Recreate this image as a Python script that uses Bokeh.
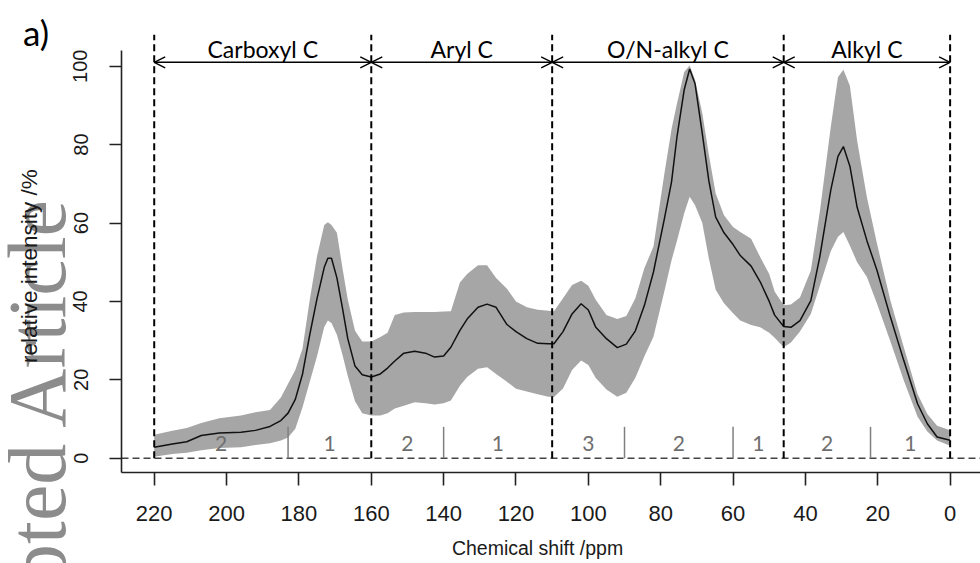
import math
from bokeh.plotting import figure
from bokeh.models import (Range1d, Label, Arrow, OpenHead, ColumnDataSource, FixedTicker,
                          LinearAxis)
from bokeh.core.properties import value
from bokeh.embed import file_html
from bokeh.resources import INLINE

# ---------------- data ----------------
ppm = [220, 215, 211, 207, 202, 196, 192, 188, 185, 183,
       181, 179, 177, 175, 173, 172, 171, 169.5, 168, 166.5,
       164.5, 162.5, 160, 157.5, 155.5, 153.5, 151, 148, 145, 142.5,
       140, 138, 135.5, 133.5, 130.5, 128, 125.5, 122.5, 120, 117,
       114, 111, 109.5, 107, 104.5, 102, 100, 98, 95, 92,
       89.5, 87, 84.5, 82, 79, 77, 75.5, 73.5, 72, 70.5,
       68.5, 66.7, 64.8, 62.5, 60, 58, 55, 52.5, 50, 48.5,
       46, 44, 41.5, 38.5, 36, 33, 31, 29.5, 27.7, 25.7,
       23, 20.2, 16.5, 12.8, 9, 6.3, 3.6, 0]
mean_int = [2.8, 3.6, 4.2, 5.8, 6.4, 6.6, 7.1, 8.1, 9.6, 11.5,
            15.0, 21.5, 31.5, 40.7, 48.7, 51.0, 51.0, 46.0, 38.5, 30.5,
            23.5, 21.3, 20.7, 21.5, 23.0, 24.8, 26.8, 27.3, 26.8, 25.8,
            26.1, 28.3, 32.6, 35.5, 38.5, 39.3, 38.5, 34.1, 32.3, 30.5,
            29.3, 29.2, 29.2, 32.3, 36.8, 39.4, 37.8, 33.5, 30.5, 28.2,
            29.1, 32.5, 39.0, 47.5, 61.0, 70.5, 82.0, 94.0, 99.3, 95.5,
            82.8, 70.8, 61.5, 57.5, 54.5, 51.7, 49.0, 45.0, 40.0, 36.5,
            33.6, 33.4, 35.1, 40.2, 51.5, 68.3, 77.0, 79.5, 74.5, 64.0,
            55.5, 47.9, 36.0, 24.9, 13.9, 8.8, 5.4, 4.6]
upper_int = [6.0, 7.0, 7.7, 9.0, 10.2, 10.9, 11.7, 12.3, 15.5, 19.0,
             22.5, 28.0, 40.5, 51.5, 59.5, 60.2, 59.5, 57.5, 48.7, 40.5,
             32.5, 29.8, 29.8, 30.9, 32.0, 36.5, 37.2, 37.3, 37.3, 37.3,
             37.4, 37.5, 44.8, 47.0, 49.2, 49.2, 46.0, 43.2, 40.0, 38.5,
             37.9, 37.6, 37.5, 40.8, 44.2, 45.3, 44.0, 40.5, 36.5, 35.5,
             36.3, 40.8, 48.5, 54.0, 72.5, 84.0, 90.5, 98.5, 100.2, 96.5,
             88.0, 77.5, 67.5, 62.0, 59.0, 57.7, 56.0, 51.3, 47.0, 42.5,
             39.0, 39.2, 41.0, 47.9, 63.0, 84.4, 97.2, 99.1, 95.0, 81.0,
             66.6, 54.7, 40.2, 28.3, 16.4, 11.3, 8.3, 7.1]
lower_int = [0.4, 1.1, 1.4, 2.0, 2.6, 2.8, 3.4, 3.8, 4.5, 5.3,
             7.5, 13.0, 19.5, 26.0, 33.5, 35.1, 34.5, 31.5, 26.5, 21.0,
             14.5, 11.5, 10.9, 10.9, 11.5, 12.7, 13.4, 14.3, 14.0, 13.7,
             14.0, 14.7, 18.5, 20.7, 22.8, 23.2, 21.5, 19.5, 17.7, 17.0,
             16.3, 15.7, 15.6, 17.8, 22.5, 24.9, 23.8, 20.5, 17.5, 15.7,
             16.7, 20.5, 26.0, 31.0, 42.5, 50.5, 55.5, 62.5, 66.7, 64.5,
             60.0, 51.0, 43.0, 39.5, 37.0, 35.1, 34.0, 33.4, 32.0, 30.7,
             28.3, 29.5, 32.3, 36.8, 44.0, 52.8, 56.5, 57.7, 54.2, 50.0,
             46.2, 39.4, 29.8, 19.8, 10.6, 6.8, 4.5, 3.2]

region_bounds = [220, 160, 110, 46, 0]
region_names = ["Carboxyl C", "Aryl C", "O/N-alkyl C", "Alkyl C"]
sub_bounds = [183, 140, 90, 60, 22]
sub_labels = ["2", "1", "2", "1", "3", "2", "1", "2", "1"]
x_ticks = [220, 200, 180, 160, 140, 120, 100, 80, 60, 40, 20, 0]
y_ticks = [0, 20, 40, 60, 80, 100]

# ---------------- figure (frame covers the whole canvas) ----------------
X_LEFT, X_RIGHT = 262.49, -8.40
Y_BOT, Y_TOP = -26.86, 116.76
AX_X = 229.04   # where the y axis sits (ppm)
AX_Y = -3.65    # where the x axis sits (intensity)

p = figure(width=980, height=563, x_range=Range1d(X_LEFT, X_RIGHT), y_range=Range1d(Y_BOT, Y_TOP),
           output_backend="svg", toolbar_location=None, x_axis_location=None, y_axis_location=None,
           min_border_left=0, min_border_right=0, min_border_top=0, min_border_bottom=0)
p.outline_line_color = None
p.xgrid.visible = False
p.ygrid.visible = False
p.background_fill_color = "white"
p.border_fill_color = "white"

# ---------------- watermark (drawn first, behind everything) ----------------
p.add_layout(Label(x=252.2, y=67.0, text="Accepted Article", angle=math.pi / 2,
                   text_align="right", text_baseline="alphabetic",
                   text_font="Liberation Serif", text_font_size="82px", text_color="#8c8c8c"))

xax = LinearAxis(fixed_location=AX_Y, ticker=FixedTicker(ticks=x_ticks), bounds=(X_RIGHT, AX_X))
yax = LinearAxis(fixed_location=AX_X, ticker=FixedTicker(ticks=y_ticks), bounds=(AX_Y, 104.0))
for ax in (xax, yax):
    ax.axis_line_color = "#222222"
    ax.axis_line_width = 1.6
    ax.major_tick_line_color = "#222222"
    ax.major_tick_line_width = 1.6
    ax.major_tick_in = 0
    ax.minor_tick_line_color = None
    ax.major_label_text_font = "Liberation Sans"
    ax.major_label_text_color = "#1a1a1a"
xax.major_tick_out = 13
xax.major_label_text_font_size = "22px"
xax.major_label_standoff = 20
yax.major_tick_out = 12
yax.major_label_text_font_size = "20px"
yax.major_label_orientation = "vertical"
yax.major_label_standoff = 22
p.add_layout(xax, "below")
p.add_layout(yax, "left")

# ---------------- outer labels ----------------
p.add_layout(Label(x=254.4, y=49.0, text="relative intensity /%", angle=math.pi / 2,
                   text_align="center", text_baseline="alphabetic",
                   text_font="Liberation Sans", text_font_size="22.5px", text_color="#1a1a1a"))
p.add_layout(Label(x=114.05, y=-23.0, text="Chemical shift /ppm",
                   text_align="center", text_baseline="middle",
                   text_font="Liberation Sans", text_font_size="19.5px", text_color="#1a1a1a"))
p.add_layout(Label(x=256.3, y=108.85, text="a)", text_align="left", text_baseline="middle",
                   text_font="Lato", text_font_size="35px", text_color="black"))

# ---------------- band & mean ----------------
src = ColumnDataSource(dict(x=ppm, m=mean_int, u=upper_int, l=lower_int))
p.varea(x="x", y1="l", y2="u", source=src, fill_color="#a6a6a6")
p.line(x="x", y="m", source=src, line_color="#111111", line_width=1.5)

# zero line (from the y axis to the right edge)
p.segment(x0=[AX_X], y0=[0], x1=[X_RIGHT], y1=[0], line_dash="7 4", line_color="#444444", line_width=1.6)

# sub-region separators
p.segment(x0=sub_bounds, y0=[0] * len(sub_bounds), x1=sub_bounds, y1=[8] * len(sub_bounds),
          line_color="#7f7f7f", line_width=1.5)

# region dashed boundaries
p.segment(x0=region_bounds, y0=[0] * len(region_bounds), x1=region_bounds, y1=[108] * len(region_bounds),
          line_color="black", line_width=2, line_dash="7 4")

# arrows and region names
for a, b in zip(region_bounds[:-1], region_bounds[1:]):
    p.add_layout(Arrow(start=OpenHead(size=11, line_width=1.4), end=OpenHead(size=11, line_width=1.4),
                       x_start=a, y_start=101, x_end=b, y_end=101, line_width=1.4))
centers = [(a + b) / 2 for a, b in zip(region_bounds[:-1], region_bounds[1:])]
p.text(x=centers, y=[104.5] * len(centers), text=region_names, text_align="center",
       text_baseline="middle", text_font=value("Lato"), text_font_size=value("23px"), text_color="black")

all_b = sorted(region_bounds + sub_bounds, reverse=True)
sub_centers = [(a + b) / 2 for a, b in zip(all_b[:-1], all_b[1:])]
p.text(x=sub_centers, y=[3.7] * len(sub_centers), text=sub_labels, text_align="center",
       text_baseline="middle", text_font=value("Lato"), text_font_size=value("21px"), text_color="#6e6e6e")

open("out.html", "w").write(file_html(p, INLINE))
